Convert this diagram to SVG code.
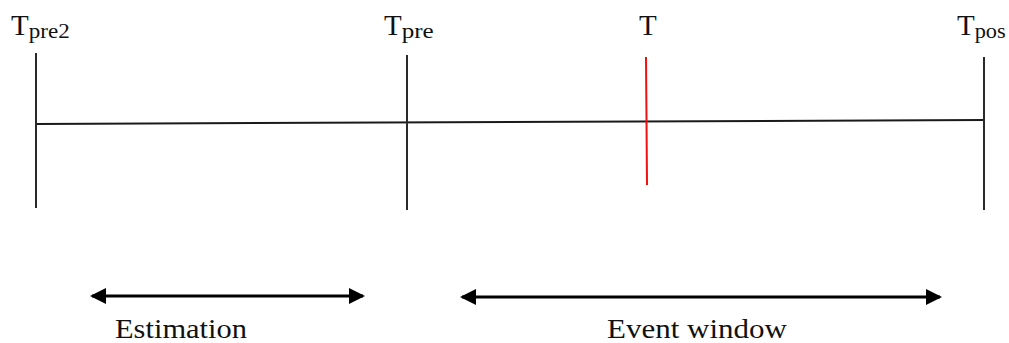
<svg xmlns="http://www.w3.org/2000/svg" width="1009" height="343" viewBox="0 0 1009 343">
<style>
.lbl{font-family:"Liberation Serif","DejaVu Serif",serif;fill:#111}
.big{font-size:29px}
.sub{font-size:20px}
.bot{font-size:27px}
.tick{stroke:#2a2a2a;stroke-width:2;fill:none}
.axis{stroke:#1a1a1a;stroke-width:2;fill:none}
.arr{stroke:#000;stroke-width:3;fill:none}
</style>
<defs>
<marker id="ah" viewBox="0 0 16 16" refX="14" refY="8" markerWidth="16" markerHeight="16" markerUnits="userSpaceOnUse" orient="auto-start-reverse">
<path d="M0,0 L16,8 L0,16 Z" fill="#000"/>
</marker>
</defs>
<g id="connectors">
<line class="axis" x1="36" y1="124" x2="984" y2="120"/>
<line class="arr" x1="92" y1="296" x2="363" y2="296" marker-start="url(#ah)" marker-end="url(#ah)"/>
<line class="arr" x1="462" y1="297" x2="940" y2="297" marker-start="url(#ah)" marker-end="url(#ah)"/>
</g>
<g id="node-tpre2">
<line class="tick" x1="36" y1="53" x2="36" y2="208"/>
<text class="lbl" x="11" y="35"><tspan class="big">T</tspan><tspan class="sub" dy="3" textLength="41" lengthAdjust="spacingAndGlyphs">pre2</tspan></text>
</g>
<g id="node-tpre">
<line class="tick" x1="407" y1="55" x2="407" y2="210"/>
<text class="lbl" x="384" y="35"><tspan class="big">T</tspan><tspan class="sub" dy="3" textLength="32" lengthAdjust="spacingAndGlyphs">pre</tspan></text>
</g>
<g id="node-t">
<line x1="646" y1="57" x2="647" y2="185" stroke="#f01010" stroke-width="2"/>
<text class="lbl big" x="639" y="35">T</text>
</g>
<g id="node-tpos">
<line class="tick" x1="984" y1="57" x2="984" y2="210"/>
<text class="lbl" x="957" y="35"><tspan class="big">T</tspan><tspan class="sub" dy="3" textLength="31" lengthAdjust="spacingAndGlyphs">pos</tspan></text>
</g>
<g id="label-estimation">
<text class="lbl bot" x="115" y="338" textLength="132" lengthAdjust="spacingAndGlyphs">Estimation</text>
</g>
<g id="label-event">
<text class="lbl bot" x="607" y="338" textLength="180" lengthAdjust="spacingAndGlyphs">Event window</text>
</g>
</svg>
